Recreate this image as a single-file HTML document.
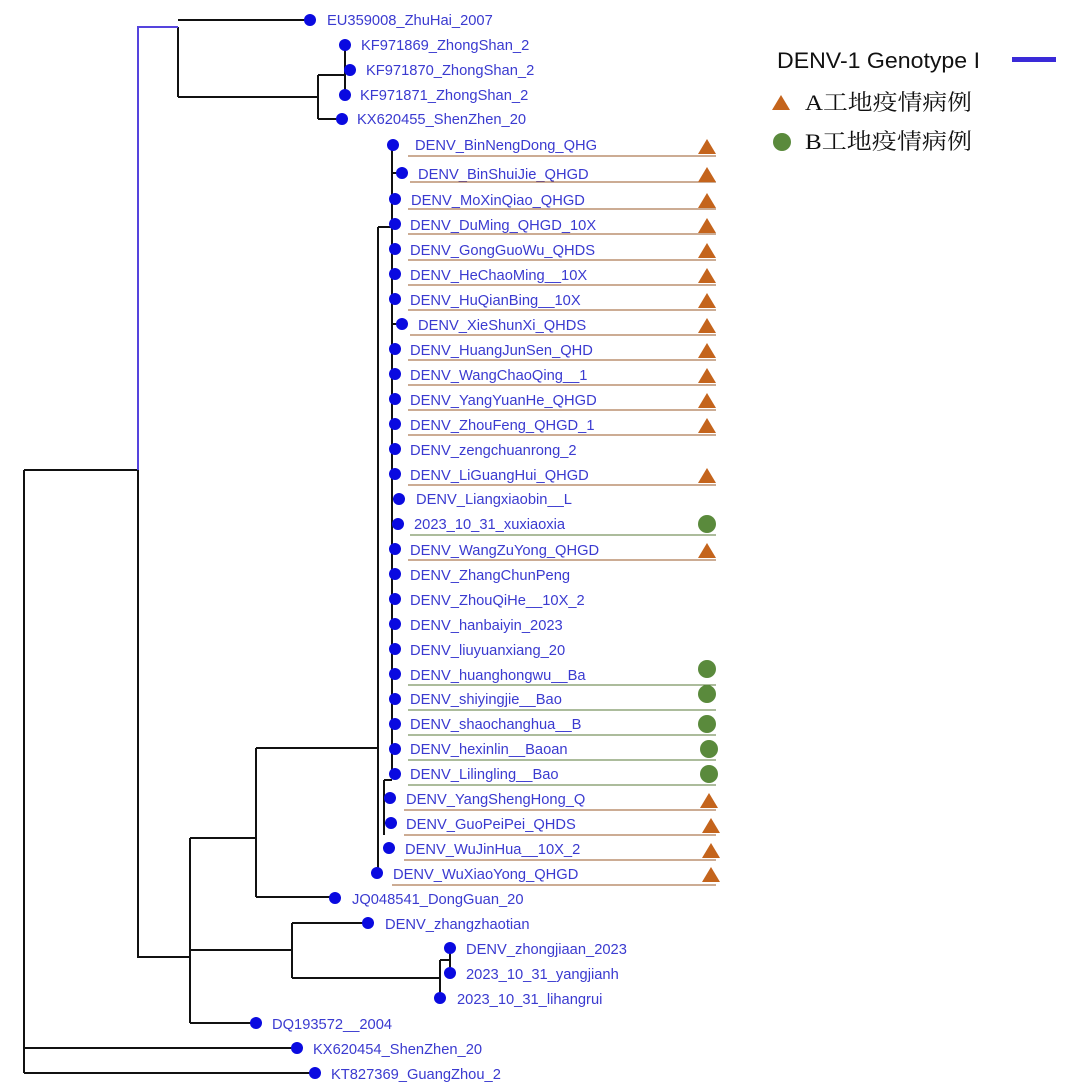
<!DOCTYPE html>
<html><head><meta charset="utf-8"><style>
html,body{margin:0;padding:0;background:#fff;}
svg{display:block;}
.l{font-family:"Liberation Sans",sans-serif;font-size:14.7px;fill:#3a3ad0;}
</style></head><body>
<svg width="1066" height="1090" viewBox="0 0 1066 1090" xmlns="http://www.w3.org/2000/svg">
<g stroke="#111" stroke-width="2" fill="none">
<path d="M24 470V1073"/>
<path d="M24 1048H297M24 1073H312"/>
<path d="M24 470H138"/>
<path d="M138 470V957H190"/>
<path d="M178 27V97M178 20H310M178 97H318M318 75V119M318 119H342M318 75H345M345 45V95M345 70H350"/>
<path d="M190 838V1023M190 1023H252M190 838H256M190 950H292"/>
<path d="M256 748V897M256 897H335M256 748H378"/>
<path d="M292 923V978M292 923H368M292 978H440M440 960V998M440 960H450M450 948V973"/>
<path d="M378 227V873M378 227H392M392 145V775"/>
<path d="M392 173H402M392 324H402M392 499H399M392 524H400"/>
<path d="M384 780V835M384 798H388M384 823H390M384 848H388M384 780H392"/>
</g>
<path d="M138 470V27H178" stroke="#5544dd" stroke-width="2" fill="none"/>
<g fill="#0a0ae0">
<circle cx="310" cy="20" r="6"/><circle cx="345" cy="45" r="6"/><circle cx="350" cy="70" r="6"/><circle cx="345" cy="95" r="6"/><circle cx="342" cy="119" r="6"/>
<circle cx="393" cy="145" r="6"/><circle cx="402" cy="173" r="6"/><circle cx="395" cy="199" r="6"/><circle cx="395" cy="224" r="6"/><circle cx="395" cy="249" r="6"/><circle cx="395" cy="274" r="6"/><circle cx="395" cy="299" r="6"/><circle cx="402" cy="324" r="6"/><circle cx="395" cy="349" r="6"/><circle cx="395" cy="374" r="6"/><circle cx="395" cy="399" r="6"/><circle cx="395" cy="424" r="6"/><circle cx="395" cy="449" r="6"/><circle cx="395" cy="474" r="6"/><circle cx="399" cy="499" r="6"/><circle cx="398" cy="524" r="6"/><circle cx="395" cy="549" r="6"/><circle cx="395" cy="574" r="6"/><circle cx="395" cy="599" r="6"/><circle cx="395" cy="624" r="6"/><circle cx="395" cy="649" r="6"/><circle cx="395" cy="674" r="6"/><circle cx="395" cy="699" r="6"/><circle cx="395" cy="724" r="6"/><circle cx="395" cy="749" r="6"/><circle cx="395" cy="774" r="6"/><circle cx="390" cy="798" r="6"/><circle cx="391" cy="823" r="6"/><circle cx="389" cy="848" r="6"/><circle cx="377" cy="873" r="6"/>
<circle cx="335" cy="898" r="6"/><circle cx="368" cy="923" r="6"/><circle cx="450" cy="948" r="6"/><circle cx="450" cy="973" r="6"/><circle cx="440" cy="998" r="6"/><circle cx="256" cy="1023" r="6"/><circle cx="297" cy="1048" r="6"/><circle cx="315" cy="1073" r="6"/>
</g>
<g class="l">
<text x="327" y="25">EU359008_ZhuHai_2007</text>
<text x="361" y="50">KF971869_ZhongShan_2</text>
<text x="366" y="75">KF971870_ZhongShan_2</text>
<text x="360" y="100">KF971871_ZhongShan_2</text>
<text x="357" y="124">KX620455_ShenZhen_20</text>
<text x="415" y="150">DENV_BinNengDong_QHG</text>
<text x="418" y="179">DENV_BinShuiJie_QHGD</text>
<text x="411" y="205">DENV_MoXinQiao_QHGD</text>
<text x="410" y="230">DENV_DuMing_QHGD_10X</text>
<text x="410" y="255">DENV_GongGuoWu_QHDS</text>
<text x="410" y="280">DENV_HeChaoMing__10X</text>
<text x="410" y="305">DENV_HuQianBing__10X</text>
<text x="418" y="330">DENV_XieShunXi_QHDS</text>
<text x="410" y="355">DENV_HuangJunSen_QHD</text>
<text x="410" y="380">DENV_WangChaoQing__1</text>
<text x="410" y="405">DENV_YangYuanHe_QHGD</text>
<text x="410" y="430">DENV_ZhouFeng_QHGD_1</text>
<text x="410" y="455">DENV_zengchuanrong_2</text>
<text x="410" y="480">DENV_LiGuangHui_QHGD</text>
<text x="416" y="504">DENV_Liangxiaobin__L</text>
<text x="414" y="529">2023_10_31_xuxiaoxia</text>
<text x="410" y="555">DENV_WangZuYong_QHGD</text>
<text x="410" y="580">DENV_ZhangChunPeng</text>
<text x="410" y="605">DENV_ZhouQiHe__10X_2</text>
<text x="410" y="630">DENV_hanbaiyin_2023</text>
<text x="410" y="655">DENV_liuyuanxiang_20</text>
<text x="410" y="680">DENV_huanghongwu__Ba</text>
<text x="410" y="704">DENV_shiyingjie__Bao</text>
<text x="410" y="729">DENV_shaochanghua__B</text>
<text x="410" y="754">DENV_hexinlin__Baoan</text>
<text x="410" y="779">DENV_Lilingling__Bao</text>
<text x="406" y="804">DENV_YangShengHong_Q</text>
<text x="406" y="829">DENV_GuoPeiPei_QHDS</text>
<text x="405" y="854">DENV_WuJinHua__10X_2</text>
<text x="393" y="879">DENV_WuXiaoYong_QHGD</text>
<text x="352" y="904">JQ048541_DongGuan_20</text>
<text x="385" y="929">DENV_zhangzhaotian</text>
<text x="466" y="954">DENV_zhongjiaan_2023</text>
<text x="466" y="979">2023_10_31_yangjianh</text>
<text x="457" y="1004">2023_10_31_lihangrui</text>
<text x="272" y="1029">DQ193572__2004</text>
<text x="313" y="1054">KX620454_ShenZhen_20</text>
<text x="331" y="1079">KT827369_GuangZhou_2</text>
</g>
<g stroke="#9a5a2a" stroke-width="1">
<path d="M408 156H716M410 182H716M408 209H716M408 234H716M408 260H716M408 285H716M408 310H716M410 335H716M408 360H716M408 385H716M408 410H716M408 435H716M408 485H716M408 560H716M404 810H716M404 835H716M404 860H716M392 885H716"/>
</g>
<g stroke="#5a7a3a" stroke-width="1">
<path d="M410 535H716M408 685H716M408 710H716M408 735H716M408 760H716M408 785H716"/>
</g>
<g fill="#c4641c">
<path d="M698 154L707 139L716 154Z"/><path d="M698 182L707 167L716 182Z"/><path d="M698 208L707 193L716 208Z"/><path d="M698 233L707 218L716 233Z"/><path d="M698 258L707 243L716 258Z"/><path d="M698 283L707 268L716 283Z"/><path d="M698 308L707 293L716 308Z"/><path d="M698 333L707 318L716 333Z"/><path d="M698 358L707 343L716 358Z"/><path d="M698 383L707 368L716 383Z"/><path d="M698 408L707 393L716 408Z"/><path d="M698 433L707 418L716 433Z"/><path d="M698 483L707 468L716 483Z"/><path d="M698 558L707 543L716 558Z"/><path d="M700 808L709 793L718 808Z"/><path d="M702 833L711 818L720 833Z"/><path d="M702 858L711 843L720 858Z"/><path d="M702 882L711 867L720 882Z"/>
<path d="M772 110L781 95L790 110Z"/>
</g>
<g fill="#5a8a3c">
<circle cx="707" cy="524" r="9"/><circle cx="707" cy="669" r="9"/><circle cx="707" cy="694" r="9"/><circle cx="707" cy="724" r="9"/><circle cx="709" cy="749" r="9"/><circle cx="709" cy="774" r="9"/>
<circle cx="782" cy="142" r="9"/>
</g>
<text x="777" y="68" textLength="203" lengthAdjust="spacingAndGlyphs" style="font-family:'Liberation Sans',sans-serif;font-size:22px;fill:#111">DENV-1 Genotype I</text>
<rect x="1012" y="57" width="44" height="5" fill="#3a2ad8"/>
<text x="805" y="110" textLength="167" lengthAdjust="spacingAndGlyphs" style="font-family:'Liberation Serif','Noto Serif CJK SC',serif;font-size:22px;fill:#111">A工地疫情病例</text>
<text x="805" y="149" textLength="167" lengthAdjust="spacingAndGlyphs" style="font-family:'Liberation Serif','Noto Serif CJK SC',serif;font-size:22px;fill:#111">B工地疫情病例</text>
</svg>
</body></html>
